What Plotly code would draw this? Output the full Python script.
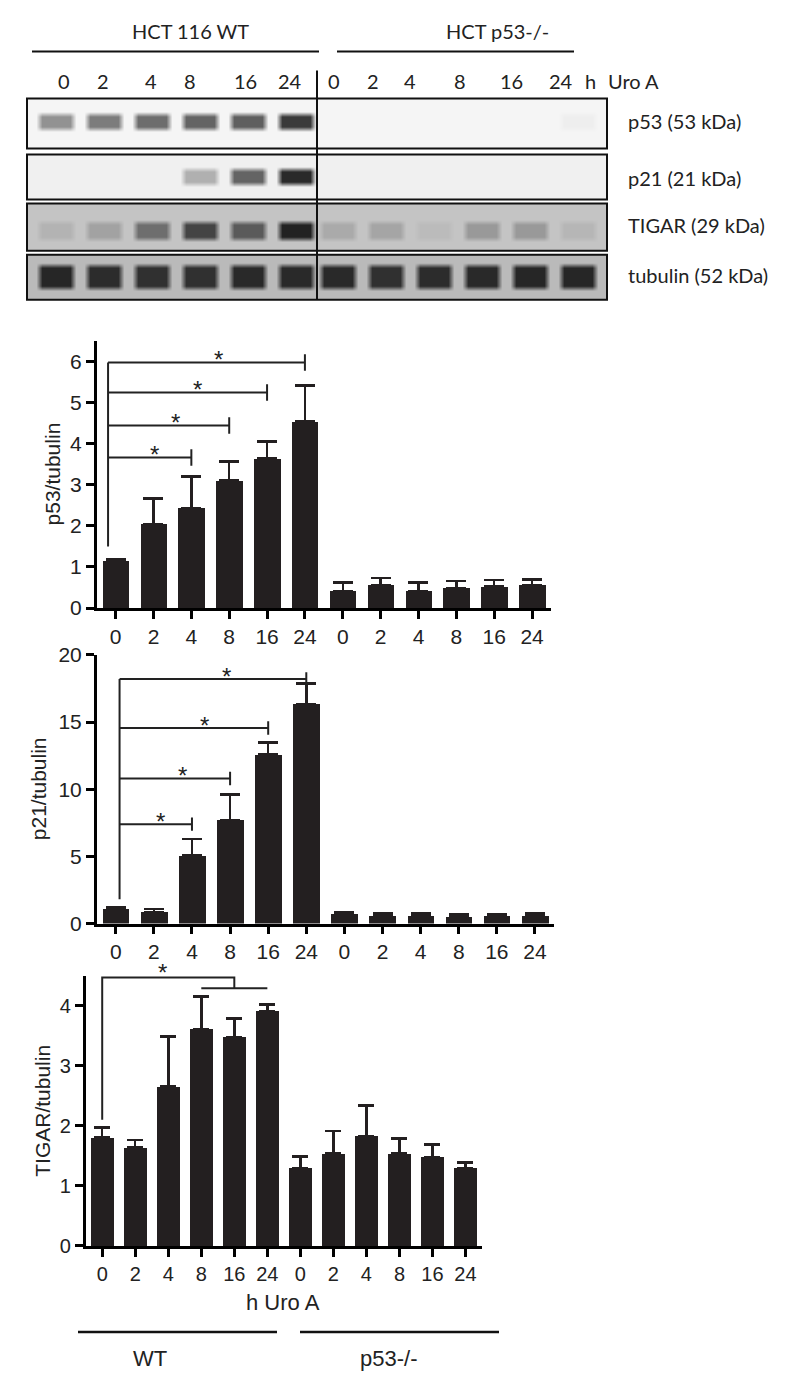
import plotly.graph_objects as go

# page is offset by the default 8px body margin; keep the figure inside the window
OFF = 8
PAGE_W, PAGE_H = 800, 1393
W, H = PAGE_W - 2 * OFF, PAGE_H - 2 * OFF
# empirical vertical calibration of the rendered page (reference px -> layout px)
CAL_A, CAL_B = 0.982, 13.8

# ---------------- data ----------------
hours = ["0", "2", "4", "8", "16", "24"]
tick_text = hours + hours
groups = ["WT", "p53-/-"]

p53_mean = [1.15, 2.04, 2.43, 3.10, 3.64, 4.54, 0.42, 0.56, 0.42, 0.49, 0.53, 0.56]
p53_err = [0.04, 0.63, 0.77, 0.47, 0.41, 0.87, 0.20, 0.17, 0.20, 0.17, 0.15, 0.14]

p21_mean = [1.09, 0.84, 5.07, 7.70, 12.57, 16.32, 0.74, 0.60, 0.60, 0.47, 0.55, 0.58]
p21_err = [0.15, 0.25, 1.23, 1.90, 0.89, 1.54, 0.13, 0.17, 0.15, 0.20, 0.17, 0.17]

tigar_mean = [1.81, 1.64, 2.66, 3.61, 3.48, 3.91, 1.30, 1.54, 1.83, 1.54, 1.48, 1.30]
tigar_err = [0.16, 0.12, 0.83, 0.54, 0.31, 0.11, 0.19, 0.37, 0.51, 0.25, 0.21, 0.09]

# significance comparisons (vs 0 h WT)
p53_sig_targets = [2, 3, 4, 5]
p53_sig_heights = [3.66, 4.44, 5.24, 5.97]
p21_sig_targets = [2, 3, 4, 5]
p21_sig_heights = [7.4, 10.8, 14.55, 18.2]
tigar_sig_group = [3, 4, 5]
tigar_sig_heights = [4.29, 4.47]

# western blot band darkness per lane (0 = none, 1 = black)
blot_names = ["p53 (53 kDa)", "p21 (21 kDa)", "TIGAR (29 kDa)", "tubulin (52 kDa)"]
blot_p53 = [0.45, 0.55, 0.62, 0.66, 0.68, 0.85, 0.0, 0.0, 0.0, 0.0, 0.0, 0.03]
blot_p21 = [0.0, 0.0, 0.0, 0.30, 0.65, 0.92, 0.0, 0.0, 0.0, 0.0, 0.0, 0.0]
blot_tigar = [0.10, 0.20, 0.50, 0.75, 0.62, 0.95, 0.15, 0.18, 0.05, 0.25, 0.25, 0.08]
blot_tubulin = [0.92, 0.88, 0.86, 0.86, 0.90, 0.90, 0.90, 0.86, 0.88, 0.90, 0.92, 0.92]
blot_background = [0.03, 0.05, 0.24, 0.28]
blot_bands = [blot_p53, blot_p21, blot_tigar, blot_tubulin]

# ---------------- style / layout ----------------
BAR = "rgb(35,31,32)"
FONT = "Arial, Liberation Sans, sans-serif"
BLOT_FONT = "Lato, Open Sans, sans-serif"


def px_x(p):
    return (p - OFF) / W


def px_y(p):
    design = (p - CAL_B) / CAL_A
    return 1 - (design - OFF) / H


fig = go.Figure()

charts = [
    dict(mean=p53_mean, err=p53_err, ax="", title="p53/tubulin", rng=[0, 6.5], dtick=1,
         xdom=[96.7, 551], ydom=[609, 342], cap=10, tfont=21, title_x=52),
    dict(mean=p21_mean, err=p21_err, ax="2", title="p21/tubulin", rng=[0, 20], dtick=5,
         xdom=[96.7, 554], ydom=[924, 655.7], cap=10, tfont=21, title_x=38),
    dict(mean=tigar_mean, err=tigar_err, ax="3", title="TIGAR/tubulin", rng=[0, 4.5], dtick=1,
         xdom=[85.7, 482], ydom=[1246, 976], cap=8, tfont=20, title_x=43),
]

xs_idx = list(range(len(tick_text)))
for c in charts:
    fig.add_trace(go.Bar(
        x=xs_idx, y=c["mean"], width=0.7,
        marker=dict(color=BAR, line=dict(width=0)),
        error_y=dict(type="data", array=c["err"], arrayminus=[0] * len(c["err"]),
                     symmetric=False, color=BAR, thickness=2.5, width=c["cap"]),
        xaxis="x" + c["ax"], yaxis="y" + c["ax"], showlegend=False, hoverinfo="skip"))
    axis_common = dict(showgrid=False, zeroline=False, showline=True, linecolor="black",
                       linewidth=2.5, ticks="outside", ticklen=8, tickwidth=2.5,
                       tickcolor="black", tickfont=dict(family=FONT, size=c["tfont"], color="#222"))
    fig.layout["xaxis" + c["ax"]] = dict(
        domain=[px_x(c["xdom"][0]), px_x(c["xdom"][1])],
        range=[-0.5, 11.5], tickvals=xs_idx, ticktext=tick_text,
        anchor="y" + c["ax"], **axis_common)
    fig.layout["yaxis" + c["ax"]] = dict(
        domain=[px_y(c["ydom"][0]), px_y(c["ydom"][1])],
        range=c["rng"], dtick=c["dtick"], tick0=0,
        anchor="x" + c["ax"], **axis_common)
    fig.add_annotation(
        x=px_x(c["title_x"]), y=px_y((c["ydom"][0] + c["ydom"][1]) / 2),
        xref="paper", yref="paper", text=c["title"], textangle=-90, showarrow=False,
        font=dict(family=FONT, size=21, color="#222"), xanchor="center", yanchor="middle")


def add_brackets(ax, start_x, start_y, targets, heights, tick, star_frac):
    bx, by = [start_x, start_x, None], [start_y, max(heights), None]
    for t, h in zip(targets, heights):
        bx += [start_x, t, None, t, t, None]
        by += [h, h, None, h - tick, h + tick, None]
        fig.add_annotation(x=start_x + star_frac * (t - start_x), y=h, xref="x" + ax,
                           yref="y" + ax, text="*", showarrow=False, yanchor="middle",
                           xanchor="center", yshift=3,
                           font=dict(family=FONT, size=24, color="#222"))
    fig.add_trace(go.Scatter(x=bx, y=by, mode="lines", line=dict(color="#222", width=2),
                             xaxis="x" + ax, yaxis="y" + ax, showlegend=False,
                             hoverinfo="skip"))


add_brackets("", -0.2, 1.5, p53_sig_targets, p53_sig_heights, 0.2, 0.56)
add_brackets("2", 0.1, 1.8, p21_sig_targets, p21_sig_heights, 0.5, 0.57)

# TIGAR grouped bracket
g0, g1 = tigar_sig_group[0], tigar_sig_group[-1]
gm = tigar_sig_group[len(tigar_sig_group) // 2]
lo, hi = tigar_sig_heights
fig.add_trace(go.Scatter(
    x=[0, 0, gm, gm, None, g0, g1], y=[2.1, hi, hi, lo, None, lo, lo],
    mode="lines", line=dict(color="#222", width=2), xaxis="x3", yaxis="y3",
    showlegend=False, hoverinfo="skip"))
fig.add_annotation(x=0.46 * gm, y=hi, xref="x3", yref="y3", text="*", showarrow=False,
                   yanchor="middle", xanchor="center", yshift=5,
                   font=dict(family=FONT, size=24, color="#222"))

# ---------------- western blot panel (reference-pixel axis) ----------------
lane_x = [56 + 48 * i for i in range(6)] + [338 + 48 * i for i in range(6)]
rows_px = [(100, 150), (156, 201), (205, 252), (256, 301)]
band_mid = [123, 178, 232, 278]
band_half = [5, 5, 6, 9]
BOX_L, BOX_R, DIV = 27, 607, 317

for bi, bands in enumerate(blot_bands):
    top, bot = rows_px[bi]
    mid, hh = band_mid[bi], band_half[bi]
    bg = blot_background[bi]
    xn = [BOX_L + 1, BOX_L + 3]
    col_is_band = [None, None]
    for li, cx in enumerate(lane_x):
        xn += [cx - 20, cx - 14, cx + 14, cx + 20]
        col_is_band += [None, li, li, None]
    xn += [BOX_R - 3, BOX_R - 1]
    col_is_band += [None, None]
    yn = [top + 1, top + 3, mid - hh - 5, mid - hh, mid + hh, mid + hh + 5, bot - 3, bot - 1]
    row_is_band = [False, False, False, True, True, False, False, False]
    z = []
    for rb in row_is_band:
        row = []
        for cb in col_is_band:
            if rb and cb is not None:
                row.append(bg + bands[cb] * (0.97 - bg))
            else:
                row.append(bg)
        z.append(row)
    fig.add_trace(go.Heatmap(
        x=xn, y=yn, z=z, zmin=0, zmax=1, zsmooth="best", showscale=False,
        colorscale=[[0, "rgb(252,252,252)"], [1, "rgb(18,18,18)"]],
        xaxis="x4", yaxis="y4", hoverinfo="skip"))
    fig.add_shape(type="rect", x0=BOX_L, x1=BOX_R, y0=top, y1=bot, xref="x4", yref="y4",
                  line=dict(color="#111", width=2))
    fig.add_annotation(x=626, y=(top + bot) / 2 - 2 + (bi == 1) * 3, xref="x4", yref="y4",
                       text=blot_names[bi], showarrow=False, xanchor="left", yanchor="middle",
                       font=dict(family=BLOT_FONT, size=20, color="#222"))

fig.add_shape(type="line", x0=DIV, x1=DIV, y0=72, y1=301, xref="x4", yref="y4",
              line=dict(color="#111", width=2))

lane_label_x = [64, 103, 151, 190, 245, 290, 334, 373, 410, 460, 511, 561]
for lx, t in zip(lane_label_x, tick_text):
    fig.add_annotation(x=lx, y=83, xref="x4", yref="y4", text=t, showarrow=False,
                       xanchor="center", yanchor="middle",
                       font=dict(family=BLOT_FONT, size=20, color="#222"))
fig.add_annotation(x=590, y=83, xref="x4", yref="y4", text="h", showarrow=False,
                   xanchor="center", yanchor="middle",
                   font=dict(family=BLOT_FONT, size=20, color="#222"))
fig.add_annotation(x=633, y=83, xref="x4", yref="y4", text="Uro A", showarrow=False,
                   xanchor="center", yanchor="middle",
                   font=dict(family=BLOT_FONT, size=20, color="#222"))

header_text = ["HCT 116 WT", "HCT p53-/-"]
header_x = [190, 497]
header_lines = [(32, 319), (337, 574)]
for t, hx, (l0, l1) in zip(header_text, header_x, header_lines):
    fig.add_annotation(x=hx, y=33, xref="x4", yref="y4", text=t, showarrow=False,
                       xanchor="center", yanchor="middle",
                       font=dict(family=BLOT_FONT, size=20, color="#222"))
    fig.add_shape(type="line", x0=l0, x1=l1, y0=53, y1=53, xref="x4", yref="y4",
                  line=dict(color="#111", width=2))

BLOT_TOP, BLOT_BOTTOM = 22, 315
fig.layout.xaxis4 = dict(domain=[0, 1], range=[OFF, PAGE_W - OFF], visible=False,
                         anchor="y4", fixedrange=True)
fig.layout.yaxis4 = dict(domain=[px_y(BLOT_BOTTOM), min(1, px_y(BLOT_TOP))],
                         range=[BLOT_BOTTOM, BLOT_TOP],
                         visible=False, anchor="x4", fixedrange=True)

# ---------------- bottom labels ----------------
fig.add_annotation(x=px_x(283), y=px_y(1302), xref="paper", yref="paper", text="h Uro A",
                   showarrow=False, xanchor="center", yanchor="middle",
                   font=dict(family=FONT, size=22, color="#222"))
bottom_lines = [(78, 277), (300, 499)]
bottom_text_x = [150, 388]
for g, (l0, l1), tx in zip(groups, bottom_lines, bottom_text_x):
    fig.add_shape(type="line", x0=px_x(l0), x1=px_x(l1), y0=px_y(1332), y1=px_y(1332),
                  xref="paper", yref="paper", line=dict(color="#111", width=2.5))
    fig.add_annotation(x=px_x(tx), y=px_y(1358), xref="paper", yref="paper", text=g,
                       showarrow=False, xanchor="center", yanchor="middle",
                       font=dict(family=FONT, size=22, color="#222"))

fig.update_layout(width=W, height=H, margin=dict(l=0, r=0, t=0, b=0),
                  paper_bgcolor="white", plot_bgcolor="rgba(0,0,0,0)",
                  bargap=0, showlegend=False)

fig.write_html("out.html")
